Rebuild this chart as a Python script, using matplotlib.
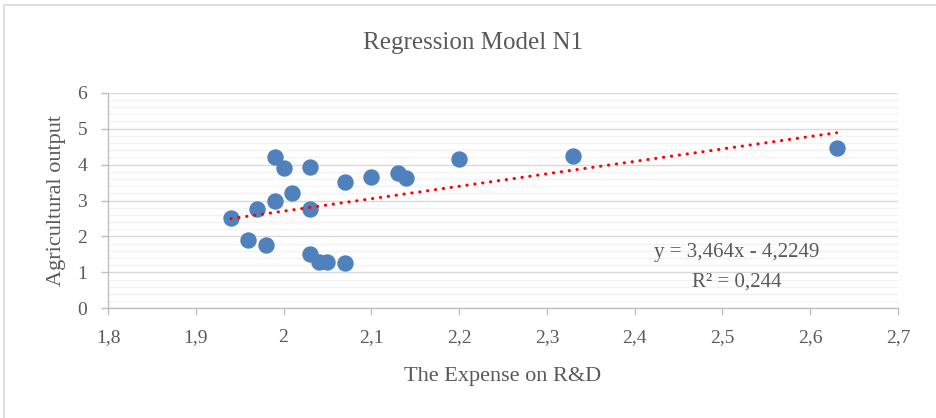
import matplotlib
matplotlib.use("Agg")
import matplotlib.pyplot as plt
import numpy as np
from matplotlib.ticker import MultipleLocator, FuncFormatter
from matplotlib.patches import Rectangle

# Data
rd_expense = [1.94, 1.96, 1.97, 1.98, 1.99, 1.99, 2.00, 2.01, 2.03, 2.03, 2.03,
              2.04, 2.05, 2.07, 2.07, 2.10, 2.13, 2.14, 2.20, 2.33, 2.63]
agri_output = [2.52, 1.89, 2.76, 1.77, 4.22, 2.99, 3.90, 3.20, 3.92, 2.76, 1.51,
               1.30, 1.30, 1.27, 3.51, 3.66, 3.76, 3.62, 4.16, 4.24, 4.45]
slope = 3.464
intercept = -4.2249
r_squared = 0.244
title = "Regression Model N1"
x_label = "The Expense on R&D"
y_label = "Agricultural output"

W, H = 937, 418
fig = plt.figure(figsize=(W / 100, H / 100), dpi=100)
fig.patch.set_facecolor("white")
plt.rcParams['font.family'] = ['Liberation Serif', 'DejaVu Serif']

text_col = "#595959"
axis_col = "#BFBFBF"

# chart frame
fig.patches.append(Rectangle((4 / W, -0.1), 1.2, 1 - 5 / H + 0.1, transform=fig.transFigure,
                             fill=False, edgecolor="#D9D9D9", linewidth=1.2))

ax = fig.add_axes([108 / W, 1 - 308.3 / H, (898 - 108) / W, (308.3 - 92.7) / H])
ax.set_xlim(1.8, 2.7)
ax.set_ylim(0, 6)

ax.xaxis.set_major_locator(MultipleLocator(0.1))
ax.yaxis.set_major_locator(MultipleLocator(1))
ax.yaxis.set_minor_locator(MultipleLocator(0.2))

def comma_fmt(v, pos):
    s = f"{v:.1f}".rstrip("0").rstrip(".")
    return s.replace(".", ",")

ax.xaxis.set_major_formatter(FuncFormatter(comma_fmt))
ax.yaxis.set_major_formatter(FuncFormatter(comma_fmt))

ax.grid(which="major", axis="y", color="#D9D9D9", linewidth=1.0, zorder=0)
ax.grid(which="minor", axis="y", color="#F2F2F2", linewidth=1.0, zorder=0)
ax.set_axisbelow(True)

for s in ["top", "right"]:
    ax.spines[s].set_visible(False)
for s in ["left", "bottom"]:
    ax.spines[s].set_color(axis_col)
    ax.spines[s].set_linewidth(1.0)

ax.tick_params(axis="both", which="major", colors=axis_col, length=5, width=1.0,
               labelcolor=text_col, labelsize=14)
ax.tick_params(axis="y", which="minor", length=0)
ax.tick_params(axis="x", pad=10)
ax.tick_params(axis="y", pad=10)

ax.plot(rd_expense, agri_output, linestyle="none", marker="o", markersize=10.8,
        color="#4F81BD", markeredgecolor="#4F81BD", zorder=3, clip_on=False)

xs = np.array([min(rd_expense), max(rd_expense)])
ax.plot(xs, slope * xs + intercept, color="#FF0000", linewidth=2.2,
        linestyle=(0, (0.1, 2.5)), dash_capstyle="round", zorder=4)

eq = f"y = {slope:.3f}x - {abs(intercept):.4f}".replace(".", ",")
r2 = f"R² = {r_squared:.3f}".replace(".", ",")
ax.text(2.516, 1.54, eq, ha="center", va="center", fontsize=15, color=text_col)
ax.text(2.516, 0.74, r2, ha="center", va="center", fontsize=15, color=text_col)

fig.text(473 / W, 1 - 43 / H, title, ha="center", va="center", fontsize=18, color=text_col)
fig.text(503 / W, 1 - 376 / H, x_label, ha="center", va="center", fontsize=16, color=text_col)
fig.text(57 / W, 1 - 200 / H, y_label, ha="center", va="center", fontsize=16,
         color=text_col, rotation=90)

fig.savefig("out.png", dpi=100, facecolor="white")
